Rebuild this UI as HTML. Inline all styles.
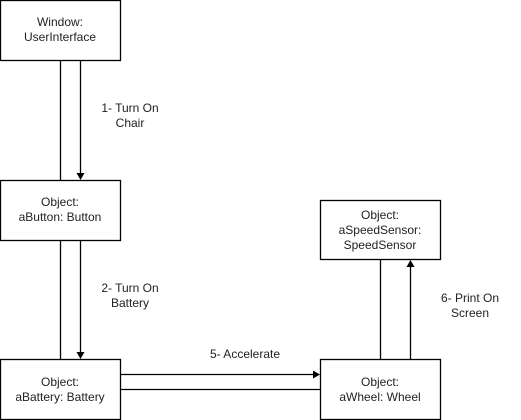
<!DOCTYPE html>
<html><head><style>
html,body{margin:0;padding:0;background:#fff;}
svg{display:block;}
text{font-family:"Liberation Sans",Arial,sans-serif;font-size:12px;fill:#222;text-anchor:middle;}
</style></head><body>
<svg width="521" height="420" viewBox="0 0 521 420">
<g fill="#fff" stroke="#000" stroke-width="1.3">
<rect x="0.5" y="0.5" width="120" height="60"/>
<rect x="0.5" y="180.5" width="120" height="60"/>
<rect x="0.5" y="359.5" width="120" height="60"/>
<rect x="320.5" y="359.5" width="120" height="60"/>
<rect x="320.5" y="200.5" width="120" height="59"/>
</g>
<g stroke="#000" stroke-width="1.3">
<line x1="60.5" y1="61" x2="60.5" y2="180"/>
<line x1="80.5" y1="61" x2="80.5" y2="174"/>
<line x1="60.5" y1="241" x2="60.5" y2="359"/>
<line x1="80.5" y1="241" x2="80.5" y2="353"/>
<line x1="121" y1="374.5" x2="314" y2="374.5"/>
<line x1="121" y1="389.5" x2="320" y2="389.5"/>
<line x1="380.5" y1="260" x2="380.5" y2="359"/>
<line x1="410.5" y1="266" x2="410.5" y2="359"/>
</g>
<g fill="#000">
<polygon points="76.5,173 84.5,173 80.5,180"/>
<polygon points="76.5,352 84.5,352 80.5,359"/>
<polygon points="313,370.5 313,378.5 320,374.5"/>
<polygon points="406.5,267 414.5,267 410.5,260"/>
</g>
<text x="60" y="26">Window:</text>
<text x="60" y="41">UserInterface</text>
<text x="60" y="206">Object:</text>
<text x="60" y="221">aButton: Button</text>
<text x="60" y="386">Object:</text>
<text x="60" y="401">aBattery: Battery</text>
<text x="380" y="386">Object:</text>
<text x="380" y="401">aWheel: Wheel</text>
<text x="380" y="219">Object:</text>
<text x="380" y="234">aSpeedSensor:</text>
<text x="380" y="249">SpeedSensor</text>
<text x="130" y="112">1- Turn On</text>
<text x="130" y="127">Chair</text>
<text x="130" y="292">2- Turn On</text>
<text x="130" y="307">Battery</text>
<text x="245" y="358">5- Accelerate</text>
<text x="470" y="302">6- Print On</text>
<text x="470" y="317">Screen</text>
</svg>
</body></html>
